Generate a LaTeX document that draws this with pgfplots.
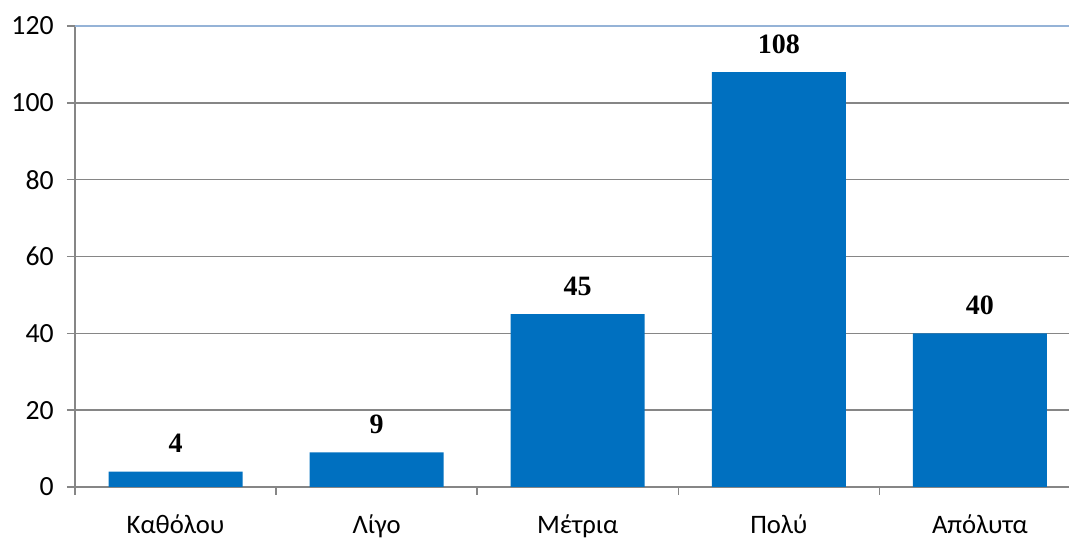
\documentclass[border=0pt]{standalone}
\usepackage{pgfplots}
\pgfplotsset{compat=1.18}
\usepackage{fontspec}
\setmainfont{Carlito}
\newfontfamily\labelserif{Liberation Serif}
\definecolor{barblue}{HTML}{0070C0}
\definecolor{gridgray}{HTML}{868686}
\definecolor{topblue}{HTML}{95B3D7}
\begin{document}
\begin{tikzpicture}
\useasboundingbox (0,0) rectangle (801.75pt,403.5pt);
\begin{axis}[
  at={(56.25pt,38.25pt)}, anchor=south west,
  scale only axis, width=745.5pt, height=345.75pt,
  xmin=-0.5, xmax=4.443, ymin=0, ymax=120,
  ybar, bar width=100.5pt,
  axis lines*=left,
  axis line style={draw=gridgray, line width=1.1pt, -},
  ytick={0,20,...,100},
  extra y ticks={120},
  extra y tick style={grid style={draw=topblue, line width=1.5pt}},
  ymajorgrids, grid style={draw=gridgray, line width=1.1pt},
  xtick={0,1,2,3,4},
  xticklabels={Καθόλου, Λίγο, Μέτρια, Πολύ, Απόλυτα},
  minor xtick={-0.5,0.5,1.5,2.5,3.5},
  major x tick style={draw=none},
  tick align=outside, tick pos=left,
  major tick length=6pt, minor tick length=6pt,
  tick style={draw=gridgray, line width=1.1pt},
  /pgf/number format/assume math mode=true,
  xticklabel style={font=\fontsize{20}{24}\selectfont, yshift=-11.5pt},
  yticklabel style={font=\fontsize{20.8}{24}\selectfont, xshift=-6.5pt},
  nodes near coords,
  every node near coord/.append style={font=\labelserif\bfseries\fontsize{21}{24}\selectfont, yshift=10.5pt, black},
]
\addplot[fill=barblue, draw=none] coordinates {(0,4) (1,9) (2,45) (3,108) (4,40)};
\end{axis}
\end{tikzpicture}
\end{document}
